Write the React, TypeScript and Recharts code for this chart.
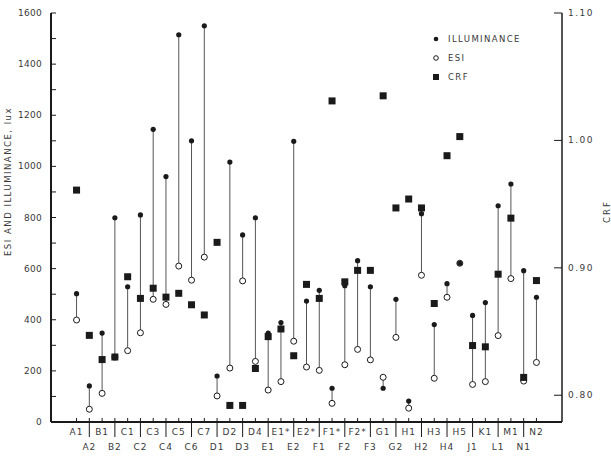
import React from 'react'
import { ComposedChart, Scatter, XAxis, YAxis, ReferenceLine, Legend } from 'recharts'

const categories = [
  'A1', 'A2', 'B1', 'B2', 'C1', 'C2', 'C3', 'C4', 'C5', 'C6', 'C7', 'D1', 'D2', 'D3', 'D4',
  'E1', 'E1*', 'E2', 'E2*', 'F1', 'F1*', 'F2', 'F2*', 'F3', 'G1', 'G2', 'H1', 'H2', 'H3',
  'H4', 'H5', 'J1', 'K1', 'L1', 'M1', 'N1', 'N2',
]

const illuminance = [
  502, 141, 348, 799, 529, 810, 1145, 960, 1515, 1100, 1550, 180, 1017, 732, 799,
  348, 389, 1098, 473, 515, 132, 533, 631, 529, 132, 480, 82, 815, 381,
  541, 621, 417, 467, 846, 931, 592, 488,
]

const esi = [
  399, 50, 112, 254, 279, 349, 480, 460, 610, 555, 645, 102, 211, 552, 237,
  125, 158, 316, 215, 202, 73, 224, 284, 243, 175, 331, 54, 574, 171,
  488, 621, 147, 158, 338, 561, 160, 233,
]

const crf = [
  0.961, 0.847, 0.828, 0.83, 0.893, 0.876, 0.884, 0.877, 0.88, 0.871, 0.863, 0.92, 0.792, 0.792, 0.821,
  0.846, 0.852, 0.831, 0.887, 0.876, 1.031, 0.889, 0.898, 0.898, 1.035, 0.947, 0.954, 0.947, 0.872,
  0.988, 1.003, 0.839, 0.838, 0.895, 0.939, 0.814, 0.89,
]

const leftTicks = [0, 100, 200, 300, 400, 500, 600, 700, 800, 900, 1000, 1100, 1200, 1300, 1400, 1500, 1600]
const rightTicks = [0.8, 0.9, 1.0, 1.1]

const data = categories.map((label, i) => ({
  x: i,
  label,
  illum: illuminance[i],
  esi: esi[i],
  crf: crf[i],
}))

const catTicks = data.map(d => d.x)

const FONT = 'DejaVu Sans'
const INK = '#1a1a1a'
const TEXT = '#3a3a3a'

function BottomTick({ x, y, payload }: any) {
  const i = payload.value
  const lower = i % 2 === 1
  return (
    <g>
      <line x1={x} y1={y - 4} x2={x} y2={y} stroke={INK} />
      {lower && <line x1={x} y1={y} x2={x} y2={y + 15} stroke={INK} />}
      <text
        x={x}
        y={lower ? y + 28 : y + 13}
        textAnchor="middle"
        fontFamily={FONT}
        fontSize={9}
        letterSpacing={1}
        fill={TEXT}
      >
        {categories[i]}
      </text>
    </g>
  )
}

function TopTick({ x, y }: any) {
  return <line x1={x} y1={y} x2={x} y2={y + 5} stroke={INK} />
}

function LeftTick({ x, y, payload }: any) {
  const v = payload.value
  return (
    <g>
      <line x1={x} y1={y} x2={x + 5} y2={y} stroke={INK} />
      {v % 200 === 0 && (
        <text x={x - 9} y={y + 3} textAnchor="end" fontFamily={FONT} fontSize={9} letterSpacing={0.3} fill={TEXT}>
          {v}
        </text>
      )}
    </g>
  )
}

function RightTick({ x, y, payload }: any) {
  return (
    <g>
      <line x1={x - 8} y1={y} x2={x} y2={y} stroke={INK} />
      <text x={x + 6} y={y + 3} textAnchor="start" fontFamily={FONT} fontSize={9} letterSpacing={1.5} fill={TEXT}>
        {payload.value.toFixed(2)}
      </text>
    </g>
  )
}

const Dot = (p: any) => <circle cx={p.cx} cy={p.cy} r={2.6} fill={INK} />
const Ring = (p: any) => <circle cx={p.cx} cy={p.cy} r={3} fill="#fff" stroke={INK} strokeWidth={1} />
const Square = (p: any) => <rect x={p.cx - 3.5} y={p.cy - 3.5} width={7} height={7} fill={INK} />

function LegendBox() {
  const rows = [
    { name: 'ILLUMINANCE', icon: <circle cx={6} cy={6} r={2.3} fill={INK} /> },
    { name: 'ESI', icon: <circle cx={6} cy={6} r={2.3} fill="#fff" stroke={INK} /> },
    { name: 'CRF', icon: <rect x={3} y={3} width={6} height={6} fill={INK} /> },
  ]
  return (
    <div>
      {rows.map(r => (
        <div key={r.name} style={{ display: 'flex', alignItems: 'center', height: 19 }}>
          <svg width={12} height={12}>{r.icon}</svg>
          <span style={{ marginLeft: 6, fontFamily: FONT, fontSize: 8.5, letterSpacing: 1.4, color: TEXT }}>{r.name}</span>
        </div>
      ))}
    </div>
  )
}

export default function App() {
  return (
    <div style={{ position: 'absolute', left: 0, top: 0, width: 611, height: 462, background: '#fff' }}>
      <ComposedChart width={611} height={462} data={data} margin={{ top: 13, right: 0, bottom: 0, left: 0 }}>
        <XAxis
          dataKey="x"
          type="number"
          domain={[-2, 38]}
          ticks={catTicks}
          interval={0}
          height={40}
          tickSize={0}
          tickMargin={0}
          tickLine={false}
          tick={BottomTick}
          axisLine={{ stroke: INK, strokeWidth: 2 }}
        />
        <XAxis
          xAxisId="top"
          dataKey="x"
          type="number"
          orientation="top"
          domain={[-2, 38]}
          ticks={catTicks}
          interval={0}
          height={0}
          tickSize={0}
          tickMargin={0}
          tickLine={false}
          tick={TopTick}
          axisLine={{ stroke: INK, strokeWidth: 1.5 }}
        />
        <YAxis
          yAxisId="l"
          domain={[0, 1600]}
          ticks={leftTicks}
          interval={0}
          width={51}
          tickSize={0}
          tickMargin={0}
          tickLine={false}
          tick={LeftTick}
          axisLine={{ stroke: INK, strokeWidth: 2 }}
          label={{
            value: 'ESI AND ILLUMINANCE, lux',
            angle: -90,
            position: 'center',
            dx: -18,
            dy: -36,
            style: { fontFamily: FONT, fontSize: 8.5, letterSpacing: 1.5, fill: TEXT },
          }}
        />
        <YAxis
          yAxisId="r"
          orientation="right"
          domain={[0.779, 1.1]}
          ticks={rightTicks}
          interval={0}
          width={49}
          tickSize={0}
          tickMargin={0}
          tickLine={false}
          tick={RightTick}
          axisLine={{ stroke: INK, strokeWidth: 1.5 }}
          allowDataOverflow
          label={{
            value: 'CRF',
            angle: -90,
            position: 'center',
            dx: 20,
            dy: -6,
            style: { fontFamily: FONT, fontSize: 8.5, letterSpacing: 2, fill: TEXT },
          }}
        />
        <Legend
          layout="horizontal"
          verticalAlign="middle"
          align="center"
          wrapperStyle={{ left: 430, top: 29, width: 'auto', height: 'auto' }}
          content={() => <LegendBox />}
        />
        {data.map(d => (
          <ReferenceLine
            key={d.label}
            yAxisId="l"
            segment={[{ x: d.x, y: d.esi }, { x: d.x, y: d.illum }]}
            stroke="#555"
            strokeWidth={1}
            ifOverflow="visible"
          />
        ))}
        <Scatter yAxisId="l" dataKey="esi" shape={Ring} isAnimationActive={false} />
        <Scatter yAxisId="l" dataKey="illum" shape={Dot} isAnimationActive={false} />
        <Scatter yAxisId="r" dataKey="crf" shape={Square} isAnimationActive={false} />
      </ComposedChart>
    </div>
  )
}
